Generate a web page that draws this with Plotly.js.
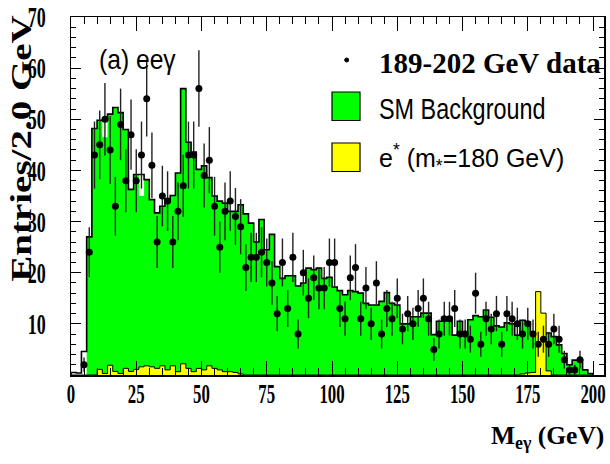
<!DOCTYPE html>
<html>
<head>
<meta charset="utf-8">
<script src="https://cdn.plot.ly/plotly-3.0.1.min.js"></script>
<style>html,body{margin:0;padding:0;background:#fff;}#chart{width:610px;height:464px;}</style>
</head>
<body>
<div id="chart"></div>
<script>
// ---- data (2 GeV bins from 0 to 200) ----
const binWidth = 2;
const nBins = 100;

// SM background (green fill), one value per bin
const bkg = [
  0, 0, 0, 27, 48.2, 49.8, 46.5, 51, 52.3, 51.3,
  48, 36.3, 39.2, 35, 38.2, 34.3, 31.7, 33, 34.4, 35.1,
  39.5, 56, 45.5, 43.6, 40.2, 40.9, 38.6, 35, 34, 33.6,
  32, 32, 33.3, 31.5, 29.7, 26, 30.4, 24.5, 27.5, 21.2,
  18.9, 19.4, 19.4, 17.4, 18, 20.9, 20.6, 20.9, 18.9, 19.1,
  17.2, 16.5, 15.7, 16.5, 16.3, 16, 14, 13.7, 13.7, 14.4,
  16.1, 14, 13.7, 10, 10, 11.4, 11.4, 12.1, 12.1, 7.9,
  10.5, 11.3, 11.3, 7.8, 10.5, 7.8, 10.8, 11.6, 11.4, 12.7,
  11.3, 9.6, 9.4, 10.2, 10, 7.8, 10.7, 10.4, 8.3, 8,
  8, 8.2, 7.5, 5.9, 4.2, 2, 2.9, 2.9, 1, 0.3
];
// bins where the black outline differs from the green fill
const notchBins = [0, 1, 2, 6, 13];
const notchTops = [0.5, 0.4, 4.6, 49.8, 39.2];

// e* signal, m = 180 GeV (yellow histogram)
const sig = [
  0, 0, 0, 0, 0, 1.1, 0.3, 1.9, 0.7, 0.3,
  1.3, 0.7, 1.1, 1.6, 1.8, 1.6, 1.3, 1.8, 1.0, 1.8,
  0.65, 2.2, 1.3, 0.65, 1.3, 1.0, 1.8, 1.3, 1.0, 0.65,
  0.65, 0.5, 0.2, 0, 0, 0, 0, 0, 0, 0,
  0, 0, 0, 0, 0, 0, 0, 0, 0, 0,
  0, 0, 0, 0, 0, 0, 0, 0, 0, 0,
  0, 0, 0, 0, 0, 0, 0, 0, 0, 0,
  0, 0, 0, 0, 0, 0, 0, 0, 0, 0,
  0, 0, 0, 0, 0, 0, 0.2, 0.4, 0.5, 16.3,
  12.1, 0.8, 0, 0, 0, 0, 0, 0, 0, 0
];

// 189-202 GeV data, entries per bin (null = empty bin)
const dataCounts = [
  null, null, 2, 24, 43, 45, 50, 44, 33, 49,
  38, 47, 38, 43, 54, 41, 26, 35, 34, 26,
  32, 37, 43, 43, 56, 39, 42, 33, 25, 32,
  34, 31, 29, 21, 23, 23, 24, 22, 18, 12,
  22, 13, 23, 8, 20, 15, 19, 17, 17, 22,
  22, 13, 11, 19, 21, 11, 17, 10, 18, 8,
  13, 11, 15, 9, 12, 10, 13, 15, 11, 5,
  8, 11, 11, 13, 8, 8, 7, 16, 6, 11,
  9, 12, 6, 12, 11, 10, 8, 10, 8, 6,
  7, 6, 9, 7, 3, 1, 1, 3, null, null
];

const xTickVals = [0, 25, 50, 75, 100, 125, 150, 175, 200];
const xTickText = ['0', '25', '50', '75', '100', '125', '150', '175', '200'];
const yTickVals = [10, 20, 30, 40, 50, 60, 70];
const yTickText = ['10', '20', '30', '40', '50', '60', '70'];

// ---- build step paths ----
const binLow = [];
for (let i = 0; i < nBins; i++) binLow.push(i * binWidth);
const xHi = nBins * binWidth;
function stepXY(vals) {
  return { x: [0].concat(binLow, [xHi]), y: [0].concat(vals, [0]) };
}
const outline = bkg.slice();
notchBins.forEach((b, k) => { outline[b] = notchTops[k]; });
const centers = binLow.map(v => v + binWidth / 2);

const gFill = stepXY(bkg), gLine = stepXY(outline), yStep = stepXY(sig);

const traces = [
  { x: gFill.x, y: gFill.y, type: 'scatter', mode: 'lines', line: { shape: 'hv', width: 0, color: '#00ff00' },
    fill: 'tozeroy', fillcolor: '#00ff00', hoverinfo: 'skip', showlegend: false },
  { x: gLine.x, y: gLine.y, type: 'scatter', mode: 'lines', line: { shape: 'hv', width: 1.6, color: '#000' },
    hoverinfo: 'skip', showlegend: false },
  { x: yStep.x, y: yStep.y, type: 'scatter', mode: 'lines', line: { shape: 'hv', width: 1, color: '#000' },
    fill: 'tozeroy', fillcolor: '#ffff00', hoverinfo: 'skip', showlegend: false },
  { x: centers, y: dataCounts, type: 'scatter', mode: 'markers',
    marker: { size: 7, color: '#000' },
    error_y: { type: 'sqrt', visible: true, width: 0, thickness: 1.4, color: '#222' },
    showlegend: false }
];

const L = 71, R = 6, T = 17, B = 89, W = 610, H = 464;
const pw = W - L - R, ph = H - T - B;
const px = v => (v - L) / pw;
const py = v => (H - B - v) / ph;

const serifB = { family: 'Liberation Serif, Times New Roman, serif', weight: 'bold', color: '#000' };
const sans = { family: 'Liberation Sans, Arial, sans-serif', color: '#000' };

const layout = {
  width: W, height: H,
  margin: { l: L, r: R, t: T, b: B },
  paper_bgcolor: '#fff', plot_bgcolor: '#fff',
  showlegend: false,
  xaxis: {
    range: [0, 204.2], tickmode: 'array', tickvals: xTickVals, ticktext: xTickText,
    ticks: 'inside', ticklen: 14, tickwidth: 1, tickcolor: '#000',
    minor: { ticks: 'inside', ticklen: 7, dtick: 5, tick0: 0, tickwidth: 1, tickcolor: '#000' },
    showline: true, linewidth: 1.5, linecolor: '#000', mirror: 'ticks',
    showgrid: false, zeroline: false, ticklabelstandoff: -7, ticklabeloverflow: 'allow',
    tickfont: Object.assign({ size: 28 }, serifB)
  },
  yaxis: {
    range: [0, 70], tickmode: 'array', tickvals: yTickVals, ticktext: yTickText,
    ticks: 'inside', ticklen: 10, tickwidth: 1, tickcolor: '#000',
    minor: { ticks: 'inside', ticklen: 5, dtick: 2, tick0: 0, tickwidth: 1, tickcolor: '#000' },
    showline: true, linewidth: 1.5, linecolor: '#000', mirror: 'ticks',
    showgrid: false, zeroline: false, ticklabelstandoff: 18,
    tickfont: Object.assign({ size: 29 }, serifB)
  },
  shapes: [
    { type: 'circle', xref: 'paper', yref: 'paper', x0: px(344.7), x1: px(348.7), y0: py(62), y1: py(58),
      fillcolor: '#000', line: { color: '#000', width: 1 } },
    { type: 'rect', xref: 'paper', yref: 'paper', x0: px(332), x1: px(360), y0: py(120.5), y1: py(92),
      fillcolor: '#00ff00', line: { color: '#000', width: 1.2 } },
    { type: 'rect', xref: 'paper', yref: 'paper', x0: px(332), x1: px(360), y0: py(171.5), y1: py(143),
      fillcolor: '#ffff00', line: { color: '#000', width: 1.2 } }
  ],
  annotations: [
    { text: 'Entries/2.0 GeV', xref: 'paper', yref: 'paper', x: px(20), y: py(149), xanchor: 'center', yanchor: 'middle',
      textangle: -90, showarrow: false, font: Object.assign({ size: 30 }, serifB) },
    { text: 'M<sub>eγ</sub> (GeV)', xref: 'paper', yref: 'paper', x: px(606), y: py(419), xanchor: 'right', yanchor: 'top',
      align: 'right', showarrow: false, font: Object.assign({ size: 25.5 }, serifB) },
    { text: '(a) eeγ', xref: 'paper', yref: 'paper', x: px(97), y: py(60), xanchor: 'left', yanchor: 'middle',
      align: 'left', showarrow: false, font: Object.assign({ size: 28 }, sans) },
    { text: '189-202 GeV data', xref: 'paper', yref: 'paper', x: px(377), y: py(63), xanchor: 'left', yanchor: 'middle',
      align: 'left', showarrow: false, font: Object.assign({ size: 29 }, serifB) },
    { text: 'SM Background', xref: 'paper', yref: 'paper', x: px(377), y: py(108), xanchor: 'left', yanchor: 'middle',
      align: 'left', showarrow: false, font: Object.assign({ size: 30 }, sans) },
    { text: 'e<sup>*</sup> (m<sub>*</sub>=180 GeV)', xref: 'paper', yref: 'paper', x: px(377), y: py(158), xanchor: 'left', yanchor: 'middle',
      align: 'left', showarrow: false, font: Object.assign({ size: 25 }, sans) }
  ]
};

function squeezeEl(t, f) {
  const len = t.getComputedTextLength();
  if (len > 0) {
    t.setAttribute('textLength', (len * f).toFixed(2));
    t.setAttribute('lengthAdjust', 'spacingAndGlyphs');
  }
}

Plotly.newPlot('chart', traces, layout, { staticPlot: true }).then(() => {
  document.querySelectorAll('.xtick text').forEach(t => squeezeEl(t, 0.6));
  document.querySelectorAll('.ytick text').forEach(t => squeezeEl(t, 0.62));
  const factors = [1.3, 1, 0.88, 1, 0.78, 1];
  document.querySelectorAll('.annotation').forEach((a, i) => {
    const t = a.querySelector('text.annotation-text');
    if (t && factors[i] !== 1) squeezeEl(t, factors[i]);
  });
});
</script>
</body>
</html>
